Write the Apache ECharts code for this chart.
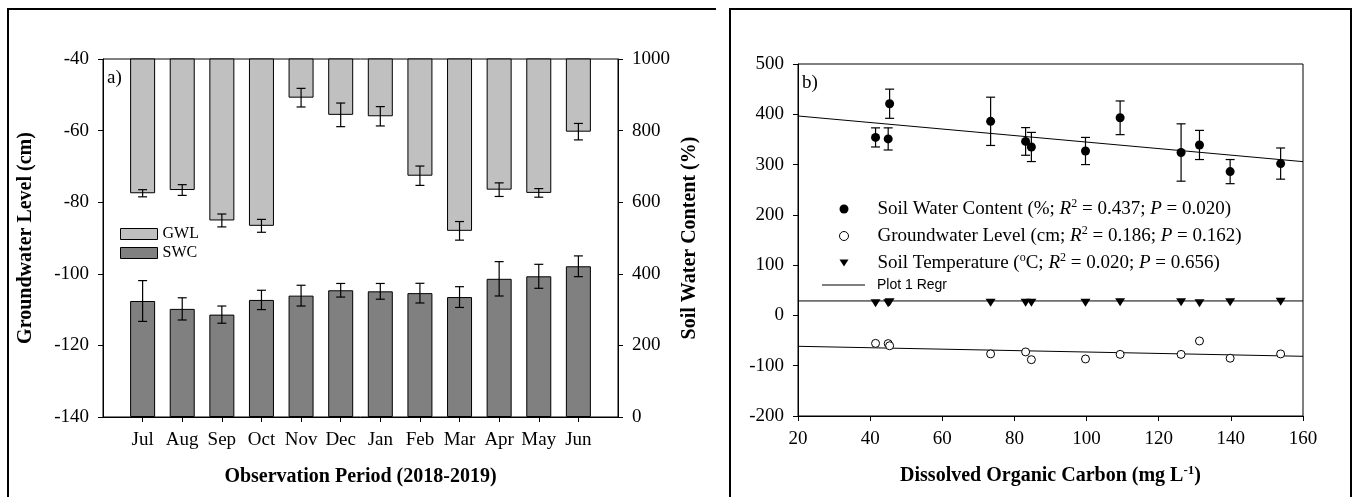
<!DOCTYPE html>
<html>
<head>
<meta charset="utf-8">
<script src="https://cdn.jsdelivr.net/npm/echarts@6/dist/echarts.min.js"></script>
<style>
  html, body { margin: 0; background: #fff; }
  #chart { width: 1354px; height: 497px; }
</style>
</head>
<body>
<div id="chart"></div>
<script>
// monthly means, Jul 2018 - Jun 2019
var months = ["Jul", "Aug", "Sep", "Oct", "Nov", "Dec", "Jan", "Feb", "Mar", "Apr", "May", "Jun"];
var gwl = [-77.5, -76.6, -85.1, -86.6, -50.8, -55.6, -56.0, -72.6, -88.0, -76.5, -77.4, -60.3];
var gwlErr = [1.0, 1.5, 1.8, 1.8, 2.6, 3.3, 2.7, 2.7, 2.6, 1.9, 1.2, 2.3];
var swc = [324, 302, 286, 327, 339, 354, 351, 346, 335, 386, 393, 421];
var swcErr = [57, 31, 24, 27, 29, 19, 22, 27.5, 29, 48, 33.5, 29];
var doc = [126.2, 153.8, 139.8, 99.7, 131.3, 41.5, 45.0, 83.1, 84.7, 73.4, 109.3, 45.4];
var soilTemp = [26, 27, 26, 25, 24, 24, 24, 25, 25, 25, 26, 26];

// regression lines of panel b (end points)
var swcFit = [[20, 396.6], [160, 305.8]];
var gwlFit = [[20, -61.4], [160, -81.3]];
var tempFit = [[20, 28.8], [160, 28.8]];

var leftTicks = [-140, -40, 20];
var rightTicks = [0, 1000, 200];

var serif = "Liberation Serif";
var black = "#000";

var legendText = {
  "Soil Water Content": "{t|Soil Water Content (%; }{i|R}{s|2}{t| = 0.437; }{i|P}{t| = 0.020)}",
  "Groundwater Level": "{t|Groundwater Level (cm; }{i|R}{s|2}{t| = 0.186; }{i|P}{t| = 0.162)}",
  "Soil Temperature": "{t|Soil Temperature (}{s|o}{t|C; }{i|R}{s|2}{t| = 0.020; }{i|P}{t| = 0.656)}"
};

var chart = echarts.init(document.getElementById("chart"));

function errorBar(params, api) {
  var x = api.value(0);
  var lo = api.coord([x, api.value(1)]);
  var hi = api.coord([x, api.value(2)]);
  var w = 4.5;
  var st = { stroke: black, lineWidth: 1.2 };
  return {
    type: "group",
    children: [
      { type: "line", shape: { x1: lo[0], y1: lo[1], x2: hi[0], y2: hi[1] }, style: st },
      { type: "line", shape: { x1: lo[0] - w, y1: lo[1], x2: lo[0] + w, y2: lo[1] }, style: st },
      { type: "line", shape: { x1: hi[0] - w, y1: hi[1], x2: hi[0] + w, y2: hi[1] }, style: st }
    ]
  };
}

function axisBase() {
  return {
    axisLine: { show: true, onZero: false, lineStyle: { color: black, width: 1 } },
    axisTick: { show: true, inside: false, length: 5, lineStyle: { color: black } },
    splitLine: { show: false },
    axisLabel: { color: black, fontFamily: serif, fontSize: 19, margin: 14, formatter: function (v) { return String(v); } },
    nameTextStyle: { color: black, fontFamily: serif, fontSize: 20, fontWeight: "bold" }
  };
}

var xCats = [""].concat(months).concat([""]);

var option = {
  animation: false,
  backgroundColor: "#fff",
  grid: [
    { left: 103, top: 59, width: 515, height: 358, show: true, borderColor: black, borderWidth: 1, backgroundColor: "transparent", outerBoundsMode: "none" },
    { left: 798, top: 64, width: 505, height: 352, show: true, borderColor: black, borderWidth: 1, backgroundColor: "transparent", outerBoundsMode: "none" }
  ],
  xAxis: [
    Object.assign(axisBase(), {
      type: "category",
      gridIndex: 0,
      data: xCats,
      boundaryGap: false,
      name: "Observation Period (2018-2019)",
      nameLocation: "middle",
      nameGap: 50,
      axisTick: { show: true, length: 5, lineStyle: { color: black }, interval: function (i) { return i > 0 && i < xCats.length - 1; } },
      axisLabel: { color: black, fontFamily: serif, fontSize: 19, margin: 14, interval: 0 }
    }),
    Object.assign(axisBase(), {
      type: "value",
      gridIndex: 1,
      min: 20,
      max: 160,
      interval: 20,
      name: "{m|Dissolved Organic Carbon (mg L}{s|-1}{m|)}",
      nameLocation: "middle",
      nameGap: 48,
      nameTextStyle: {
        color: black, fontFamily: serif, fontSize: 20, fontWeight: "bold",
        rich: {
          m: { fontFamily: serif, fontSize: 20, fontWeight: "bold", lineHeight: 24, color: black },
          s: { fontFamily: serif, fontSize: 13, fontWeight: "bold", lineHeight: 6, verticalAlign: "top", color: black }
        }
      }
    })
  ],
  yAxis: [
    Object.assign(axisBase(), {
      type: "value",
      gridIndex: 0,
      position: "left",
      min: leftTicks[0],
      max: leftTicks[1],
      interval: leftTicks[2],
      name: "Groundwater Level (cm)",
      nameLocation: "middle",
      nameRotate: 90,
      nameGap: 67
    }),
    Object.assign(axisBase(), {
      type: "value",
      gridIndex: 0,
      position: "right",
      min: rightTicks[0],
      max: rightTicks[1],
      interval: rightTicks[2],
      name: "Soil Water Content (%)",
      nameLocation: "middle",
      nameRotate: 90,
      nameGap: 62
    }),
    Object.assign(axisBase(), {
      type: "value",
      gridIndex: 1,
      min: -200,
      max: 500,
      interval: 100
    })
  ],
  legend: [
    {
      orient: "vertical",
      left: 115,
      top: 221,
      itemWidth: 37,
      itemHeight: 11,
      itemGap: 3,
      icon: "rect",
      textStyle: { color: black, fontFamily: serif, fontSize: 16, lineHeight: 16 },
      itemStyle: { borderColor: black, borderWidth: 1 },
      data: ["GWL", "SWC"]
    },
    {
      orient: "vertical",
      left: 834,
      top: 193,
      itemWidth: 9,
      itemHeight: 9,
      itemGap: 5,
      formatter: function (name) { return legendText[name]; },
      textStyle: {
        color: black, fontFamily: serif, fontSize: 19, lineHeight: 22, padding: [0, 0, 0, 24],
        rich: {
          t: { fontFamily: serif, fontSize: 19, lineHeight: 22, color: black },
          i: { fontFamily: serif, fontSize: 19, lineHeight: 22, fontStyle: "italic", color: black },
          s: { fontFamily: serif, fontSize: 12, lineHeight: 8, verticalAlign: "top", color: black }
        }
      },
      data: [
        { name: "Soil Water Content", icon: "circle", itemStyle: { color: black } },
        { name: "Groundwater Level", icon: "circle", itemStyle: { color: "#fff", borderColor: black, borderWidth: 1 } },
        { name: "Soil Temperature", icon: "path://M0,0L10,0L5,8Z", itemStyle: { color: black } }
      ]
    },
    {
      orient: "vertical",
      left: 817,
      top: 272,
      itemWidth: 43,
      itemHeight: 1,
      textStyle: { color: black, fontFamily: "Liberation Sans", fontSize: 14, lineHeight: 16, padding: [0, 0, 0, 7] },
      data: [{ name: "Plot 1 Regr", icon: "rect", itemStyle: { color: black, borderWidth: 0 } }]
    }
  ],
  graphic: [
    { type: "polyline", shape: { points: [[8, 497], [8, 9], [716, 9]] }, style: { stroke: black, lineWidth: 2, fill: null } },
    { type: "polyline", shape: { points: [[730, 497], [730, 9], [1351, 9], [1351, 497]] }, style: { stroke: black, lineWidth: 2, fill: null } },
    { type: "text", left: 107, top: 69, style: { text: "a)", fontFamily: serif, fontSize: 19, fill: black } },
    { type: "text", left: 802, top: 74, style: { text: "b)", fontFamily: serif, fontSize: 19, fill: black } }
  ],
  series: [
    {
      name: "GWL",
      type: "bar",
      xAxisIndex: 0,
      yAxisIndex: 0,
      barWidth: 25,
      barGap: "-100%",
      clip: true,
      itemStyle: { color: "#c0c0c0", borderColor: black, borderWidth: 1 },
      data: gwl.map(function (v, i) { return [i + 1, v]; })
    },
    {
      name: "SWC",
      type: "bar",
      xAxisIndex: 0,
      yAxisIndex: 1,
      barWidth: 25,
      barGap: "-100%",
      itemStyle: { color: "#808080", borderColor: black, borderWidth: 1 },
      data: swc.map(function (v, i) { return [i + 1, v]; })
    },
    {
      name: "gwlErr",
      type: "custom",
      xAxisIndex: 0,
      yAxisIndex: 0,
      z: 5,
      renderItem: errorBar,
      encode: { x: 0, y: [1, 2] },
      data: gwl.map(function (v, i) { return [i + 1, v - gwlErr[i], v + gwlErr[i]]; })
    },
    {
      name: "swcErr",
      type: "custom",
      xAxisIndex: 0,
      yAxisIndex: 1,
      z: 5,
      renderItem: errorBar,
      encode: { x: 0, y: [1, 2] },
      data: swc.map(function (v, i) { return [i + 1, v - swcErr[i], v + swcErr[i]]; })
    },
    {
      name: "Plot 1 Regr",
      type: "line",
      xAxisIndex: 1,
      yAxisIndex: 2,
      symbol: "none",
      lineStyle: { color: black, width: 1 },
      itemStyle: { color: black },
      data: swcFit
    },
    {
      name: "Plot 1 Regr",
      type: "line",
      xAxisIndex: 1,
      yAxisIndex: 2,
      symbol: "none",
      lineStyle: { color: black, width: 1 },
      itemStyle: { color: black },
      data: gwlFit
    },
    {
      name: "Plot 1 Regr",
      type: "line",
      xAxisIndex: 1,
      yAxisIndex: 2,
      symbol: "none",
      lineStyle: { color: black, width: 1 },
      itemStyle: { color: black },
      data: tempFit
    },
    {
      name: "swcErrB",
      type: "custom",
      xAxisIndex: 1,
      yAxisIndex: 2,
      z: 5,
      renderItem: errorBar,
      encode: { x: 0, y: [1, 2] },
      data: doc.map(function (x, i) { return [x, swc[i] - swcErr[i], swc[i] + swcErr[i]]; })
    },
    {
      name: "Soil Water Content",
      type: "scatter",
      xAxisIndex: 1,
      yAxisIndex: 2,
      symbol: "circle",
      symbolSize: 9,
      z: 6,
      itemStyle: { color: black, opacity: 1 },
      data: doc.map(function (x, i) { return [x, swc[i]]; })
    },
    {
      name: "Groundwater Level",
      type: "scatter",
      xAxisIndex: 1,
      yAxisIndex: 2,
      symbol: "circle",
      symbolSize: 8,
      z: 6,
      itemStyle: { color: "#fff", borderColor: black, borderWidth: 1, opacity: 1 },
      data: doc.map(function (x, i) { return [x, gwl[i]]; })
    },
    {
      name: "Soil Temperature",
      type: "scatter",
      xAxisIndex: 1,
      yAxisIndex: 2,
      symbol: "path://M0,0L10,0L5,8Z",
      symbolSize: [10, 8],
      z: 6,
      itemStyle: { color: black, opacity: 1 },
      data: doc.map(function (x, i) { return [x, soilTemp[i]]; })
    }
  ]
};

chart.setOption(option);
</script>
</body>
</html>
